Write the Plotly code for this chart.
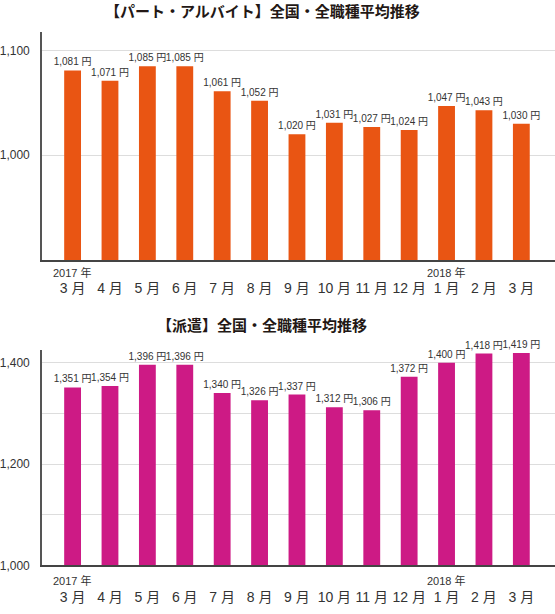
import plotly.graph_objects as go

months = ["3 月", "4 月", "5 月", "6 月", "7 月", "8 月", "9 月", "10 月", "11 月", "12 月", "1 月", "2 月", "3 月"]
year_labels = ["2017 年", "2018 年"]
year_positions = [0, 10]
part_time = [1081, 1071, 1085, 1085, 1061, 1052, 1020, 1031, 1027, 1024, 1047, 1043, 1030]
dispatch = [1351, 1354, 1396, 1396, 1340, 1326, 1337, 1312, 1306, 1372, 1400, 1418, 1419]
title_top = "【パート・アルバイト】全国・全職種平均推移"
title_bottom = "【派遣】全国・全職種平均推移"

FONT = "Liberation Sans, Noto Sans CJK JP, sans-serif"
TFONT = "Noto Sans CJK JP, sans-serif"
TXT = "#333333"
ORANGE = "#E95513"
MAGENTA = "#CD1A85"
W, H = 555, 614

idx = list(range(len(months)))

fig = go.Figure()
fig.add_trace(go.Bar(
    x=idx, y=part_time, xaxis="x", yaxis="y",
    marker=dict(color=ORANGE, line=dict(width=0)),
    texttemplate="%{y:,.0f} 円", textposition="outside", constraintext="none",
    cliponaxis=False, textfont=dict(size=10, color=TXT, family=FONT),
    hoverinfo="skip"))
fig.add_trace(go.Bar(
    x=idx, y=dispatch, xaxis="x2", yaxis="y2",
    marker=dict(color=MAGENTA, line=dict(width=0)),
    texttemplate="%{y:,.0f} 円", textposition="outside", constraintext="none",
    cliponaxis=False, textfont=dict(size=10, color=TXT, family=FONT),
    hoverinfo="skip"))

def py(px):
    return 1 - px / H

xdom = [41 / W, 1]
xcommon = dict(
    range=[-0.82, 12.9], tickmode="array", tickvals=idx, ticktext=months,
    showline=True, linecolor="#444444", linewidth=1.5, showgrid=False,
    zeroline=False, ticks="", tickfont=dict(size=14, color=TXT, family=FONT),
    fixedrange=True)
ycommon = dict(
    showline=True, linecolor="#555555", linewidth=1.5, showgrid=True,
    gridcolor="#dddddd", gridwidth=1, zeroline=False, ticks="",
    tickfont=dict(size=12, color=TXT, family=FONT), ticklabelstandoff=8,
    fixedrange=True)

fig.update_layout(
    width=W, height=H, margin=dict(l=0, r=0, t=0, b=0),
    paper_bgcolor="white", plot_bgcolor="white", showlegend=False,
    bargap=0.55, font=dict(family=FONT, color=TXT),
    xaxis=dict(domain=xdom, anchor="y", ticklabelstandoff=14, **xcommon),
    yaxis=dict(domain=[py(263), py(32)], anchor="x", range=[900, 1118],
               tickvals=[1000, 1100], ticktext=["1,000", "1,100"], **ycommon),
    xaxis2=dict(domain=xdom, anchor="y2", ticklabelstandoff=18, **xcommon),
    yaxis2=dict(domain=[py(572), py(354)], anchor="x2", range=[1000, 1425],
                tickvals=[1000, 1100, 1200, 1300, 1400],
                ticktext=["1,000", "", "1,200", "", "1,400"], **ycommon),
)

ann = []
ann.append(dict(text="<b>" + title_top + "</b>", x=262 / W, y=py(11), xref="paper", yref="paper",
                showarrow=False, font=dict(size=15, color="#231815", family=TFONT),
                xanchor="center", yanchor="middle"))
ann.append(dict(text="<b>" + title_bottom + "</b>", x=261 / W, y=py(328), xref="paper", yref="paper",
                showarrow=False, font=dict(size=15, color="#231815", family=TFONT),
                xanchor="center", yanchor="middle"))
for xa, ya, ys in (("x", "y domain", -12), ("x2", "y2 domain", -15.5)):
    for lab, pos in zip(year_labels, year_positions):
        ann.append(dict(text=lab, x=pos, y=0, xref=xa, yref=ya, yshift=ys,
                        showarrow=False, font=dict(size=11, color=TXT, family=FONT),
                        xanchor="center", yanchor="middle"))
fig.update_layout(annotations=ann)

fig.write_html("out.html", config={"displayModeBar": False},
               post_script="document.body.style.margin='0';")
